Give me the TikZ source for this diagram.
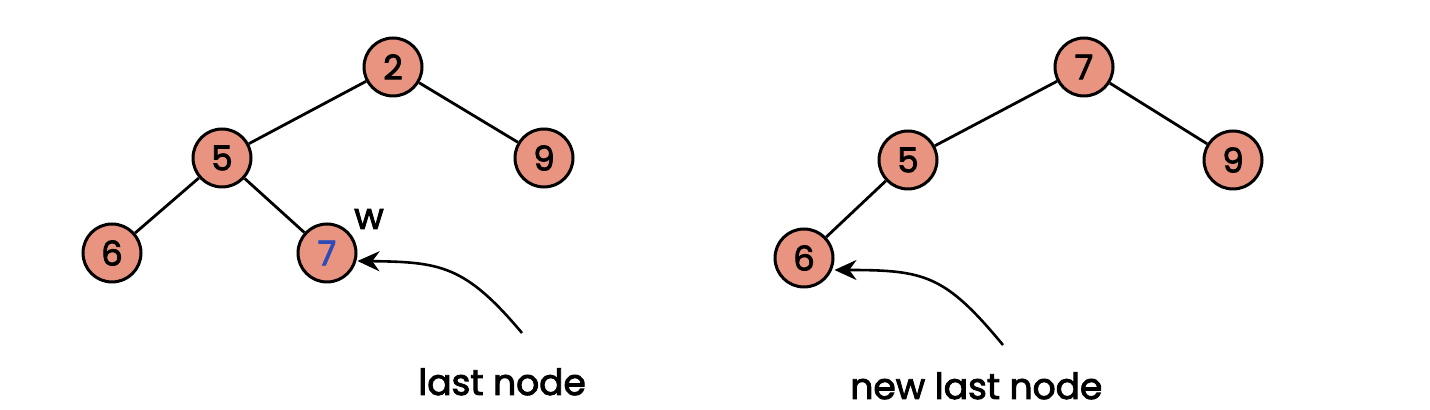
\documentclass[tikz,border=0pt]{standalone}
\usepackage{fontspec}
\setmainfont{Poppins}[FakeBold=2.5,AutoFakeBold=2.5]
\usetikzlibrary{arrows.meta}
\definecolor{salmon}{RGB}{232,148,128}
\definecolor{digblue}{RGB}{45,75,185}
\begin{document}
\begin{tikzpicture}[x=0.5pt,y=-0.5pt,
  hn/.style={circle,draw=black,line width=1.5pt,fill=salmon,minimum size=29pt,inner sep=0pt,font=\fontsize{17}{17}\selectfont},
  edge/.style={line width=1.4pt},
  pointer/.style={line width=1.3pt,-{Stealth[length=11pt,width=10pt]}},
  lbl/.style={font=\fontsize{18}{22}\selectfont,anchor=base west,inner sep=0pt}]
\useasboundingbox (0,0) rectangle (1430,410);
% left tree
\node[hn] (a2) at (393,67) {2};
\node[hn] (a5) at (222,158) {5};
\node[hn] (a9) at (544,158) {9};
\node[hn] (a6) at (112,253) {6};
\node[hn] (a7) at (327,253) {\textcolor{digblue}{7}};
\draw[edge] (a2) -- (a5);
\draw[edge] (a2) -- (a9);
\draw[edge] (a5) -- (a6);
\draw[edge] (a5) -- (a7);
\node[font=\fontsize{18}{18}\selectfont] (w) at (369,219) {w};
\coordinate (s1) at (522,333);
\draw[pointer] (s1) .. controls (465,265) and (440,262) .. ([yshift=-4pt]a7.east);
\node[lbl] (l1) at (418,395) {last node};
% right tree
\node[hn] (b7) at (1084,67) {7};
\node[hn] (b5) at (908,160) {5};
\node[hn] (b9) at (1233,160) {9};
\node[hn] (b6) at (804,258) {6};
\draw[edge] (b7) -- (b5);
\draw[edge] (b7) -- (b9);
\draw[edge] (b5) -- (b6);
\coordinate (s2) at (1003,345);
\draw[pointer] (s2) .. controls (945,275) and (925,270) .. ([yshift=-6pt]b6.east);
\node[lbl] (l2) at (850,399) {new last node};
\end{tikzpicture}
\end{document}
